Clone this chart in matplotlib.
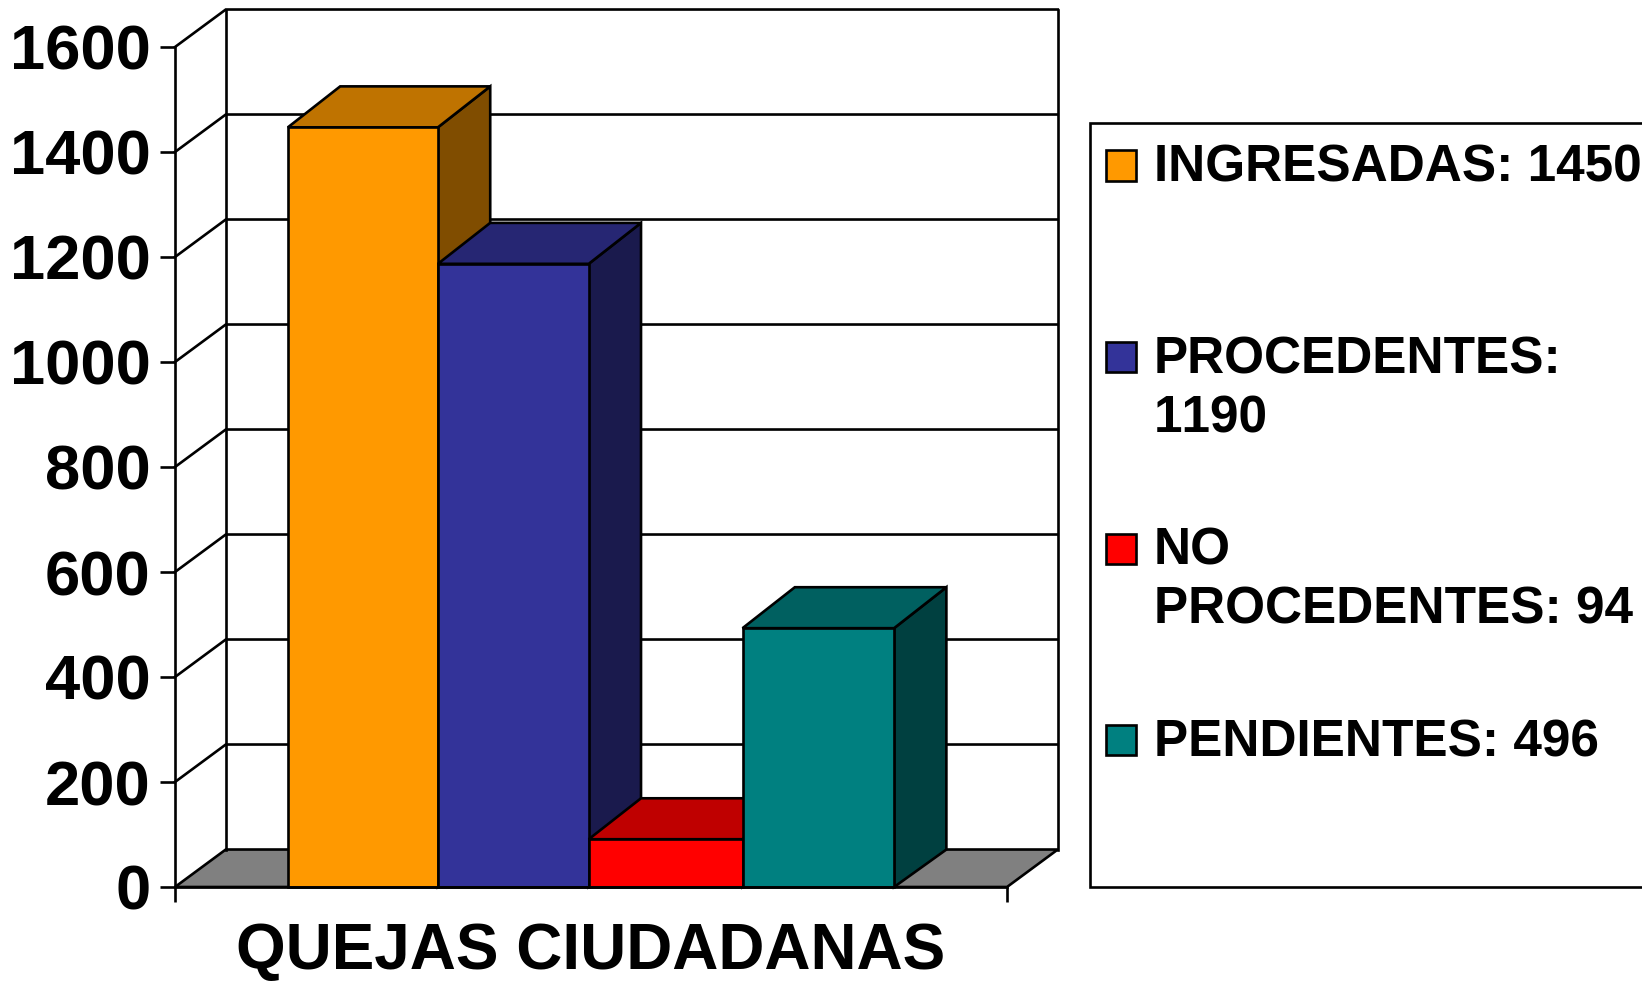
import matplotlib
matplotlib.use("Agg")
import matplotlib.pyplot as plt
from matplotlib.patches import Polygon, Rectangle

plt.rcParams['font.family'] = ['Liberation Sans', 'DejaVu Sans']
plt.rcParams['font.weight'] = 'bold'
plt.rcParams['text.kerning_factor'] = 6

# data
categories = ["INGRESADAS", "PROCEDENTES", "NO PROCEDENTES", "PENDIENTES"]
values = [1450, 1190, 94, 496]
legend_labels = ["INGRESADAS: 1450", "PROCEDENTES:\n1190", "NO\nPROCEDENTES: 94", "PENDIENTES: 496"]
y_ticks = [0, 200, 400, 600, 800, 1000, 1200, 1400, 1600]
x_label = "QUEJAS CIUDADANAS"

# styles
front_colors = ["#FF9900", "#333399", "#FF0000", "#008080"]
top_colors = ["#BF7300", "#262673", "#BF0000", "#006060"]
side_colors = ["#804D00", "#1A1A4D", "#800000", "#004040"]
floor_color = "#808080"
line_w = 1.9

W, H = 1642, 982
X_MIN, X_MAX = -0.745, 4.745
Y_MAX = 1600
# depth of the fake 3d box, in data units
DX = 0.335
DY_FLOOR = 71.4
DY_TOP = 78
TOP_SHIFT = 3  # bars end slightly under their gridline value in the original
bar_edges = [0, 0.99, 1.985, 3.0, 4.0]


def fig_x(px):
	return px / W


def fig_y(px):
	return 1 - px / H


def draw_walls(ax):
	back_left = X_MIN + DX
	back_right = X_MAX + DX
	ax.add_patch(Polygon([(X_MIN, 0), (X_MAX, 0), (back_right, DY_FLOOR), (back_left, DY_FLOOR)],
		facecolor = floor_color, edgecolor = 'black', linewidth = line_w, clip_on = False, zorder = 1))
	for tick in y_ticks[1:]:
		ax.plot([X_MIN, back_left, back_right], [tick, tick + DY_FLOOR, tick + DY_FLOOR],
			color = 'black', linewidth = line_w, clip_on = False, zorder = 1, solid_joinstyle = 'miter')
	top = Y_MAX + DY_FLOOR
	ax.plot([back_left, back_left], [DY_FLOOR, top], color = 'black', linewidth = line_w, clip_on = False, zorder = 1)
	ax.plot([back_right, back_right], [DY_FLOOR, top], color = 'black', linewidth = line_w, clip_on = False, zorder = 1)


def draw_bars(ax):
	for i, value in enumerate(values):
		style = dict(edgecolor = 'black', linewidth = line_w, zorder = 2 + i, joinstyle = 'miter')
		left, right = bar_edges[i], bar_edges[i + 1]
		height = value - TOP_SHIFT
		bar_dx = DX + 0.01
		side = [(right, 0), (right + bar_dx, DY_FLOOR), (right + bar_dx, height + DY_TOP), (right, height)]
		top = [(left, height), (right, height), (right + bar_dx, height + DY_TOP), (left + bar_dx, height + DY_TOP)]
		ax.add_patch(Polygon(side, facecolor = side_colors[i], clip_on = False, **style))
		ax.add_patch(Polygon(top, facecolor = top_colors[i], clip_on = False, **style))
		ax.bar((left + right) / 2, height, width = right - left, facecolor = front_colors[i], clip_on = False, **style)


def draw_legend(fig):
	fig.add_artist(Rectangle((fig_x(1090), fig_y(887)), 0.5, fig_y(122.5) - fig_y(887),
		facecolor = 'white', edgecolor = 'black', linewidth = line_w, transform = fig.transFigure))
	for i, label in enumerate(legend_labels):
		line_y = 164.5 + 191.6 * i
		fig.add_artist(Rectangle((fig_x(1106), fig_y(line_y + 16)), 30 / W, 30 / H,
			facecolor = front_colors[i], edgecolor = 'black', linewidth = line_w, transform = fig.transFigure))
		fig.text(fig_x(1154), fig_y(line_y - 21), label, fontsize = 37, fontweight = 'bold',
			ha = 'left', va = 'top', linespacing = 1.27)


fig = plt.figure(figsize = (W / 100, H / 100), dpi = 100)
ax = fig.add_axes([175 / W, (H - 887) / H, 832 / W, 840 / H])
ax.patch.set_visible(False)
ax.spines['top'].set_visible(False)
ax.spines['right'].set_visible(False)
ax.spines['left'].set_linewidth(line_w)
ax.spines['bottom'].set_linewidth(line_w)
ax.spines['left'].set_zorder(10)
ax.spines['bottom'].set_zorder(10)

draw_walls(ax)
draw_bars(ax)

ax.set_yticks(y_ticks)
ax.set_yticklabels([str(t) for t in y_ticks], fontsize = 45.5, fontweight = 'bold')
ax.set_xticks([X_MIN, X_MAX])
ax.set_xticklabels(["", ""])
ax.tick_params(axis = 'both', length = 10.5, width = line_w, color = 'black')
ax.tick_params(axis = 'y', pad = 7)
ax.set_xlim(X_MIN, X_MAX)
ax.set_ylim(0, Y_MAX)
ax.set_xlabel(x_label, fontsize = 46, fontweight = 'bold', labelpad = 11)

draw_legend(fig)

plt.savefig("out.png", dpi = 100)
